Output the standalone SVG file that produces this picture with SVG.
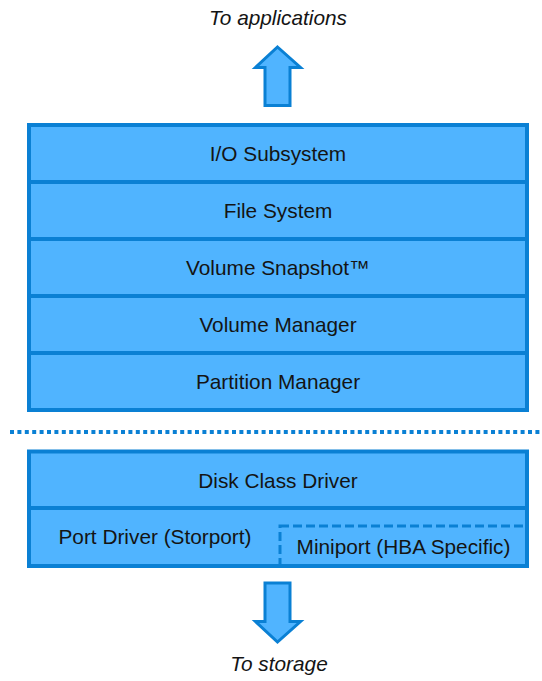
<svg xmlns="http://www.w3.org/2000/svg" width="542" height="681" viewBox="0 0 542 681">
<style>
.box{fill:#50b4ff;stroke:#0a80d4;stroke-width:4}
.lbl{font-family:"Liberation Sans",Arial,sans-serif;font-size:20.8px;fill:#141414;text-anchor:middle}
.cap{font-family:"Liberation Sans",Arial,sans-serif;font-size:20.8px;font-style:italic;fill:#141414;text-anchor:middle}
.arrow{fill:#50b4ff;stroke:#0a80d4;stroke-width:3;stroke-linejoin:miter}
</style>
<rect width="542" height="681" fill="#ffffff"/>
<text class="cap" x="278" y="25">To applications</text>
<g id="connectors">
<polygon class="arrow" points="277.5,47 300.5,67.5 290,67.5 290,105.5 265,105.5 265,67.5 255.5,67.5"/>
<polygon class="arrow" points="265,583 290,583 290,621.5 300.5,621.5 277.5,642 255.5,621.5 265,621.5"/>
<line x1="10" y1="432" x2="542" y2="432" stroke="#0a80d4" stroke-width="4" stroke-dasharray="4 3.4"/>
</g>
<g id="io-subsystem"><rect class="box" x="29" y="125" width="498" height="57"/><text class="lbl" x="278" y="160.5">I/O Subsystem</text></g>
<g id="file-system"><rect class="box" x="29" y="182" width="498" height="57"/><text class="lbl" x="278" y="217.5">File System</text></g>
<g id="volume-snapshot"><rect class="box" x="29" y="239" width="498" height="57"/><text class="lbl" x="278" y="274.5">Volume Snapshot™</text></g>
<g id="volume-manager"><rect class="box" x="29" y="296" width="498" height="57"/><text class="lbl" x="278" y="331.5">Volume Manager</text></g>
<g id="partition-manager"><rect class="box" x="29" y="353" width="498" height="57"/><text class="lbl" x="278" y="388.5">Partition Manager</text></g>
<g id="disk-class-driver"><rect class="box" x="29" y="451.5" width="498" height="56.5"/><text class="lbl" x="278" y="487.5">Disk Class Driver</text></g>
<g id="port-driver"><rect class="box" x="29" y="508" width="498" height="58"/><text class="lbl" x="155" y="544">Port Driver (Storport)</text></g>
<g id="miniport"><rect x="280" y="526" width="247" height="40" fill="none" stroke="#0a80d4" stroke-width="3" stroke-dasharray="9 4"/><text class="lbl" x="403.5" y="553.5">Miniport (HBA Specific)</text></g>
<text class="cap" x="279" y="671">To storage</text>
</svg>
